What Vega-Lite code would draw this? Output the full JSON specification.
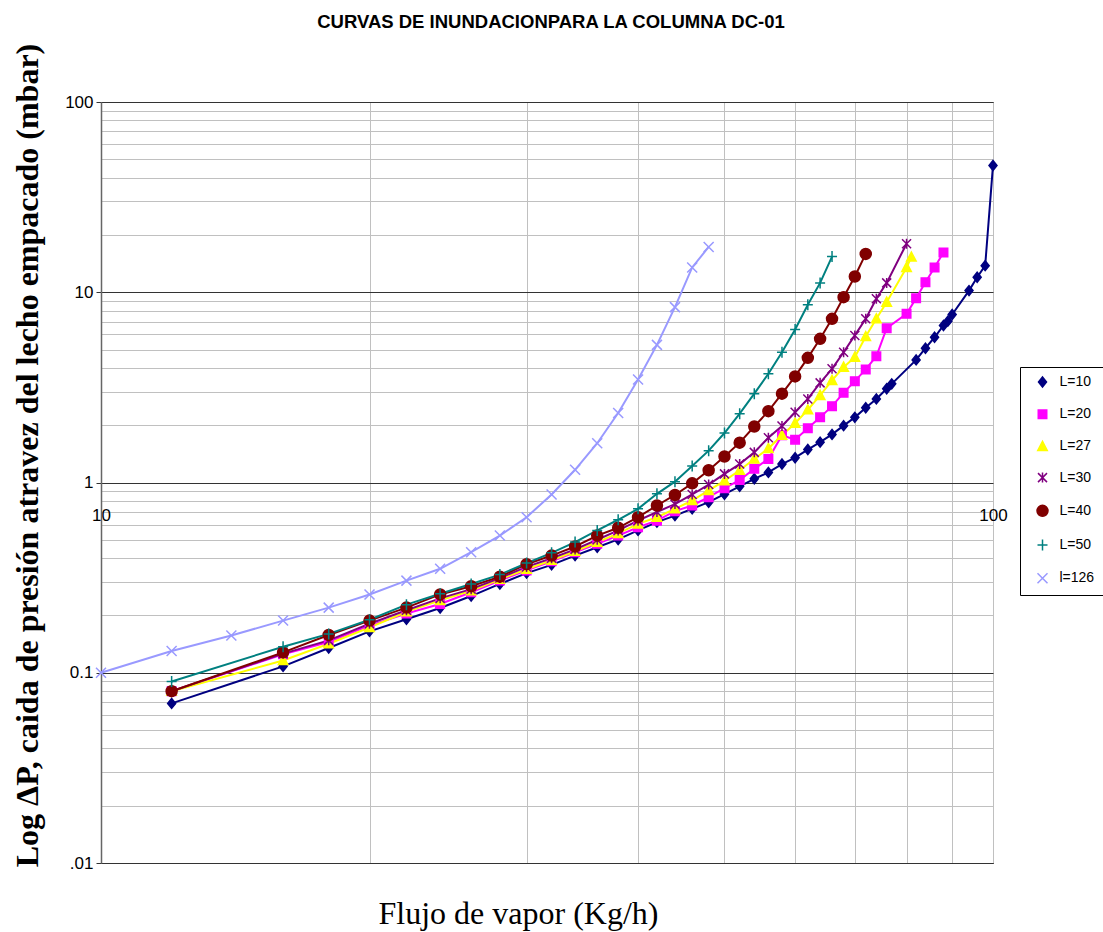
{
  "$schema": "https://vega.github.io/schema/vega-lite/v6.json",
  "width": 892,
  "height": 761,
  "autosize": "none",
  "padding": {"left": 101, "top": 102, "right": 110, "bottom": 69},
  "background": "white",
  "config": {"view": {"stroke": "#333333", "strokeWidth": 1}},
  "title": {
    "text": "CURVAS DE INUNDACIONPARA LA COLUMNA DC-01",
    "font": "Liberation Sans Narrow, Liberation Sans, sans-serif",
    "fontSize": 18.5,
    "fontWeight": "bold",
    "color": "black",
    "anchor": "middle",
    "baseline": "alphabetic",
    "offset": -3,
    "dx": 4
  },
  "data": {"values": [
    {"s":"L=10","x":12,"y":0.069},{"s":"L=10","x":16,"y":0.108},{"s":"L=10","x":18,"y":0.135},{"s":"L=10","x":20,"y":0.165},{"s":"L=10","x":22,"y":0.191},{"s":"L=10","x":24,"y":0.219},{"s":"L=10","x":26,"y":0.253},{"s":"L=10","x":28,"y":0.293},{"s":"L=10","x":30,"y":0.334},{"s":"L=10","x":32,"y":0.369},{"s":"L=10","x":34,"y":0.413},{"s":"L=10","x":36,"y":0.457},{"s":"L=10","x":38,"y":0.502},{"s":"L=10","x":40,"y":0.56},{"s":"L=10","x":42,"y":0.619},{"s":"L=10","x":44,"y":0.67},{"s":"L=10","x":46,"y":0.727},{"s":"L=10","x":48,"y":0.788},{"s":"L=10","x":50,"y":0.868},{"s":"L=10","x":52,"y":0.955},{"s":"L=10","x":54,"y":1.046},{"s":"L=10","x":56,"y":1.13},{"s":"L=10","x":58,"y":1.25},{"s":"L=10","x":60,"y":1.35},{"s":"L=10","x":62,"y":1.49},{"s":"L=10","x":64,"y":1.63},{"s":"L=10","x":66,"y":1.79},{"s":"L=10","x":68,"y":1.99},{"s":"L=10","x":70,"y":2.2},{"s":"L=10","x":72,"y":2.47},{"s":"L=10","x":74,"y":2.75},{"s":"L=10","x":76,"y":3.11},{"s":"L=10","x":77,"y":3.3},{"s":"L=10","x":82,"y":4.41},{"s":"L=10","x":84,"y":5.08},{"s":"L=10","x":86,"y":5.8},{"s":"L=10","x":88,"y":6.69},{"s":"L=10","x":89,"y":7.05},{"s":"L=10","x":90,"y":7.64},{"s":"L=10","x":94,"y":10.2},{"s":"L=10","x":96,"y":12.0},{"s":"L=10","x":98,"y":13.8},{"s":"L=10","x":100,"y":46.4},
    {"s":"L=20","x":12,"y":0.08},{"s":"L=20","x":16,"y":0.125},{"s":"L=20","x":18,"y":0.145},{"s":"L=20","x":20,"y":0.177},{"s":"L=20","x":22,"y":0.205},{"s":"L=20","x":24,"y":0.23},{"s":"L=20","x":26,"y":0.265},{"s":"L=20","x":28,"y":0.305},{"s":"L=20","x":30,"y":0.345},{"s":"L=20","x":32,"y":0.385},{"s":"L=20","x":34,"y":0.43},{"s":"L=20","x":36,"y":0.476},{"s":"L=20","x":38,"y":0.526},{"s":"L=20","x":40,"y":0.582},{"s":"L=20","x":42,"y":0.63},{"s":"L=20","x":44,"y":0.707},{"s":"L=20","x":46,"y":0.757},{"s":"L=20","x":48,"y":0.837},{"s":"L=20","x":50,"y":0.933},{"s":"L=20","x":52,"y":1.03},{"s":"L=20","x":54,"y":1.18},{"s":"L=20","x":56,"y":1.33},{"s":"L=20","x":58,"y":1.77},{"s":"L=20","x":60,"y":1.68},{"s":"L=20","x":62,"y":1.93},{"s":"L=20","x":64,"y":2.2},{"s":"L=20","x":66,"y":2.52},{"s":"L=20","x":68,"y":2.96},{"s":"L=20","x":70,"y":3.41},{"s":"L=20","x":72,"y":3.93},{"s":"L=20","x":74,"y":4.61},{"s":"L=20","x":76,"y":6.47},{"s":"L=20","x":80,"y":7.7},{"s":"L=20","x":82,"y":9.3},{"s":"L=20","x":84,"y":11.3},{"s":"L=20","x":86,"y":13.5},{"s":"L=20","x":88,"y":16.2},
    {"s":"L=27","x":12,"y":0.08},{"s":"L=27","x":16,"y":0.116},{"s":"L=27","x":18,"y":0.142},{"s":"L=27","x":20,"y":0.173},{"s":"L=27","x":22,"y":0.209},{"s":"L=27","x":24,"y":0.24},{"s":"L=27","x":26,"y":0.27},{"s":"L=27","x":28,"y":0.31},{"s":"L=27","x":30,"y":0.35},{"s":"L=27","x":32,"y":0.39},{"s":"L=27","x":34,"y":0.435},{"s":"L=27","x":36,"y":0.485},{"s":"L=27","x":38,"y":0.54},{"s":"L=27","x":40,"y":0.606},{"s":"L=27","x":42,"y":0.657},{"s":"L=27","x":44,"y":0.727},{"s":"L=27","x":46,"y":0.804},{"s":"L=27","x":48,"y":0.908},{"s":"L=27","x":50,"y":1.02},{"s":"L=27","x":52,"y":1.16},{"s":"L=27","x":54,"y":1.33},{"s":"L=27","x":56,"y":1.51},{"s":"L=27","x":58,"y":1.77},{"s":"L=27","x":60,"y":2.05},{"s":"L=27","x":62,"y":2.41},{"s":"L=27","x":64,"y":2.87},{"s":"L=27","x":66,"y":3.44},{"s":"L=27","x":68,"y":4.04},{"s":"L=27","x":70,"y":4.56},{"s":"L=27","x":72,"y":5.85},{"s":"L=27","x":74,"y":7.25},{"s":"L=27","x":76,"y":8.87},{"s":"L=27","x":80,"y":13.5},{"s":"L=27","x":81,"y":15.3},
    {"s":"L=30","x":12,"y":0.08},{"s":"L=30","x":16,"y":0.126},{"s":"L=30","x":18,"y":0.148},{"s":"L=30","x":20,"y":0.181},{"s":"L=30","x":22,"y":0.213},{"s":"L=30","x":24,"y":0.246},{"s":"L=30","x":26,"y":0.275},{"s":"L=30","x":28,"y":0.315},{"s":"L=30","x":30,"y":0.36},{"s":"L=30","x":32,"y":0.4},{"s":"L=30","x":34,"y":0.445},{"s":"L=30","x":36,"y":0.5},{"s":"L=30","x":38,"y":0.56},{"s":"L=30","x":40,"y":0.63},{"s":"L=30","x":42,"y":0.7},{"s":"L=30","x":44,"y":0.77},{"s":"L=30","x":46,"y":0.865},{"s":"L=30","x":48,"y":0.975},{"s":"L=30","x":50,"y":1.11},{"s":"L=30","x":52,"y":1.25},{"s":"L=30","x":54,"y":1.44},{"s":"L=30","x":56,"y":1.72},{"s":"L=30","x":58,"y":1.98},{"s":"L=30","x":60,"y":2.34},{"s":"L=30","x":62,"y":2.75},{"s":"L=30","x":64,"y":3.34},{"s":"L=30","x":66,"y":3.96},{"s":"L=30","x":68,"y":4.84},{"s":"L=30","x":70,"y":5.93},{"s":"L=30","x":72,"y":7.25},{"s":"L=30","x":74,"y":9.24},{"s":"L=30","x":76,"y":11.2},{"s":"L=30","x":80,"y":18.0},
    {"s":"L=40","x":12,"y":0.08},{"s":"L=40","x":16,"y":0.128},{"s":"L=40","x":18,"y":0.158},{"s":"L=40","x":20,"y":0.188},{"s":"L=40","x":22,"y":0.22},{"s":"L=40","x":24,"y":0.258},{"s":"L=40","x":26,"y":0.285},{"s":"L=40","x":28,"y":0.32},{"s":"L=40","x":30,"y":0.372},{"s":"L=40","x":32,"y":0.413},{"s":"L=40","x":34,"y":0.461},{"s":"L=40","x":36,"y":0.526},{"s":"L=40","x":38,"y":0.578},{"s":"L=40","x":40,"y":0.657},{"s":"L=40","x":42,"y":0.757},{"s":"L=40","x":44,"y":0.86},{"s":"L=40","x":46,"y":0.99},{"s":"L=40","x":48,"y":1.16},{"s":"L=40","x":50,"y":1.37},{"s":"L=40","x":52,"y":1.62},{"s":"L=40","x":54,"y":1.97},{"s":"L=40","x":56,"y":2.37},{"s":"L=40","x":58,"y":2.93},{"s":"L=40","x":60,"y":3.61},{"s":"L=40","x":62,"y":4.52},{"s":"L=40","x":64,"y":5.69},{"s":"L=40","x":66,"y":7.25},{"s":"L=40","x":68,"y":9.42},{"s":"L=40","x":70,"y":12.1},{"s":"L=40","x":72,"y":15.9},
    {"s":"L=50","x":12,"y":0.09},{"s":"L=50","x":16,"y":0.137},{"s":"L=50","x":18,"y":0.16},{"s":"L=50","x":20,"y":0.19},{"s":"L=50","x":22,"y":0.228},{"s":"L=50","x":24,"y":0.26},{"s":"L=50","x":26,"y":0.293},{"s":"L=50","x":28,"y":0.328},{"s":"L=50","x":30,"y":0.377},{"s":"L=50","x":32,"y":0.427},{"s":"L=50","x":34,"y":0.486},{"s":"L=50","x":36,"y":0.56},{"s":"L=50","x":38,"y":0.637},{"s":"L=50","x":40,"y":0.727},{"s":"L=50","x":42,"y":0.872},{"s":"L=50","x":44,"y":1.01},{"s":"L=50","x":46,"y":1.22},{"s":"L=50","x":48,"y":1.47},{"s":"L=50","x":50,"y":1.82},{"s":"L=50","x":52,"y":2.3},{"s":"L=50","x":54,"y":2.93},{"s":"L=50","x":56,"y":3.73},{"s":"L=50","x":58,"y":4.84},{"s":"L=50","x":60,"y":6.37},{"s":"L=50","x":62,"y":8.59},{"s":"L=50","x":64,"y":11.2},{"s":"L=50","x":66,"y":15.4},
    {"s":"l=126","x":10,"y":0.1},{"s":"l=126","x":12,"y":0.13},{"s":"l=126","x":14,"y":0.157},{"s":"l=126","x":16,"y":0.188},{"s":"l=126","x":18,"y":0.22},{"s":"l=126","x":20,"y":0.258},{"s":"l=126","x":22,"y":0.305},{"s":"l=126","x":24,"y":0.352},{"s":"l=126","x":26,"y":0.43},{"s":"l=126","x":28,"y":0.526},{"s":"l=126","x":30,"y":0.657},{"s":"l=126","x":32,"y":0.865},{"s":"l=126","x":34,"y":1.166},{"s":"l=126","x":36,"y":1.609},{"s":"l=126","x":38,"y":2.32},{"s":"l=126","x":40,"y":3.48},{"s":"l=126","x":42,"y":5.29},{"s":"l=126","x":44,"y":8.35},{"s":"l=126","x":46,"y":13.5},{"s":"l=126","x":48,"y":17.3}
  ]},
  "encoding": {
    "x": {
      "field": "x", "type": "quantitative",
      "scale": {"type": "log", "domain": [10, 100], "nice": false},
      "axis": {
        "values": [10, 20, 30, 40, 50, 60, 70, 80, 90, 100],
        "labelExpr": "datum.value == 10 ? '10' : datum.value == 100 ? '100' : ''",
        "ticks": false, "tickSize": 0,
        "labelPadding": -356, "labelBaseline": "top",
        "labelFlush": false, "labelOverlap": false, "labelBound": false,
        "labelFont": "Liberation Sans Narrow, Liberation Sans, sans-serif",
        "labelFontSize": 17, "labelColor": "black",
        "grid": true, "gridColor": "#c0c0c0", "gridOpacity": 1, "gridWidth": 1,
        "domainColor": "#333333",
        "title": "Flujo de vapor (Kg/h)",
        "titleFont": "Liberation Serif", "titleFontSize": 32, "titleFontWeight": "normal",
        "titleColor": "black", "titleX": 417, "titleY": 50,
        "titleAlign": "center", "titleBaseline": "middle"
      }
    },
    "y": {
      "field": "y", "type": "quantitative",
      "scale": {"type": "log", "domain": [0.01, 100], "nice": false},
      "axis": {
        "values": [0.01,0.02,0.03,0.04,0.05,0.06,0.07,0.08,0.09,0.1,0.2,0.3,0.4,0.5,0.6,0.7,0.8,0.9,1,2,3,4,5,6,7,8,9,10,20,30,40,50,60,70,80,90,100],
        "labelExpr": "datum.value == 100 ? '100' : datum.value == 10 ? '10' : datum.value == 1 ? '1' : datum.value == 0.1 ? '0.1' : datum.value == 0.01 ? '.01' : ''",
        "labelFont": "Liberation Sans Narrow, Liberation Sans, sans-serif",
        "labelFontSize": 17, "labelColor": "black",
        "labelPadding": 3, "labelFlush": false, "labelOverlap": false, "labelBound": false,
        "tickSize": 5,
        "tickColor": {"condition": {"test": "datum.value == 0.01 || datum.value == 0.1 || datum.value == 1 || datum.value == 10 || datum.value == 100", "value": "#333333"}, "value": "transparent"},
        "grid": true,
        "gridColor": {"condition": {"test": "datum.value == 0.01 || datum.value == 0.1 || datum.value == 1 || datum.value == 10 || datum.value == 100", "value": "#333333"}, "value": "#c0c0c0"},
        "gridOpacity": 1,
        "domainColor": "#666666", "domainWidth": 1.5,
        "title": "Log ΔP, caida de presión atravez del lecho empacado (mbar)",
        "titleFont": "Liberation Serif", "titleFontSize": 32, "titleFontWeight": "bold",
        "titleColor": "black", "titleX": -74, "titleY": 353, "titleAngle": 270,
        "titleAlign": "center", "titleBaseline": "middle"
      }
    },
    "color": {
      "field": "s", "type": "nominal",
      "scale": {"domain": ["L=10","L=20","L=27","L=30","L=40","L=50","l=126"], "range": ["#000080","#FF00FF","#FFFF00","#800080","#800000","#008080","#9999FF"]},
      "legend": {
        "orient": "none", "legendX": 919, "legendY": 265,
        "title": null,
        "strokeColor": "black", "fillColor": "white",
        "padding": 8, "rowPadding": 16.2,
        "symbolOffset": 7.5, "labelOffset": 10,
        "symbolSize": 100, "symbolStrokeWidth": 1.5,
        "labelFont": "Liberation Sans Narrow, Liberation Sans, sans-serif",
        "labelFontSize": 14, "labelColor": "black"
      }
    }
  },
  "layer": [
    {"mark": {"type": "line", "strokeWidth": 2}},
    {
      "mark": {"type": "point", "filled": true, "size": 100, "strokeWidth": 1.5, "opacity": 1},
      "encoding": {
        "stroke": {
          "field": "s", "type": "nominal",
          "scale": {"domain": ["L=10","L=20","L=27","L=30","L=40","L=50","l=126"], "range": ["#000080","#FF00FF","#FFFF00","#800080","#800000","#008080","#9999FF"]},
          "legend": null
        },
        "shape": {
          "field": "s", "type": "nominal",
          "scale": {"domain": ["L=10","L=20","L=27","L=30","L=40","L=50","l=126"], "range": ["M0,-1L0.8,0L0,1L-0.8,0Z","M-0.85,-0.85L0.85,-0.85L0.85,0.85L-0.85,0.85Z","M0,-1L0.95,0.8L-0.95,0.8Z","M-0.9,-0.9L0.9,0.9M-0.9,0.9L0.9,-0.9M0,-1L0,1","M-1.1,0A1.1,1.1,0,1,0,1.1,0A1.1,1.1,0,1,0,-1.1,0Z","M-1,0L1,0M0,-1.1L0,1.1","M-1,-1L1,1M-1,1L1,-1"]},
          "legend": null
        }
      }
    }
  ]
}
